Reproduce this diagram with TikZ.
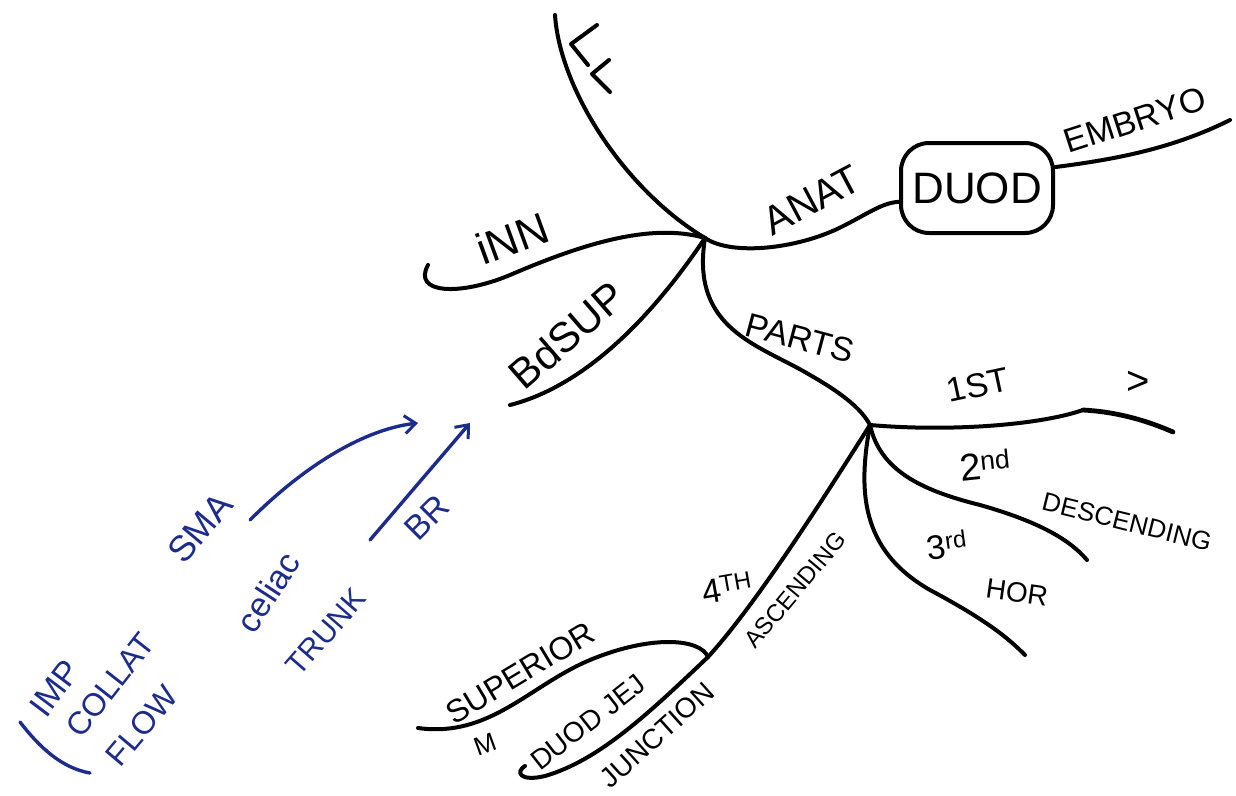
\documentclass[tikz,border=0pt]{standalone}
\usepackage{fontspec}
\setmainfont{Liberation Sans}
\usetikzlibrary{arrows.meta}
\definecolor{inkblue}{RGB}{28,44,140}
\begin{document}
\begin{tikzpicture}[x=1pt,y=-1pt,
  ink/.style={line width=4pt, line cap=round, line join=round, black},
  bink/.style={line width=3.4pt, line cap=round, line join=round, inkblue},
  lab/.style={inner sep=0pt, font=\fontsize{#1}{#1}\selectfont},
  blab/.style={lab=#1, text=inkblue},
  barb/.style={-{Straight Barb[length=11pt,width=18pt,line width=3pt]}}
]
\useasboundingbox[fill=white] (0,0) rectangle (1236,795);

% hubs and free ends
\coordinate (h1) at (705,238);
\coordinate (h2) at (870,425);
\coordinate (j4) at (708,657);
\coordinate (topend) at (555,15);
\coordinate (embend) at (1230,120);
\coordinate (innend) at (428,265);
\coordinate (bdend) at (510,405);
\coordinate (stmid) at (1083,410);
\coordinate (stend) at (1173,432);
\coordinate (ndend) at (1087,560);
\coordinate (rdend) at (1025,655);
\coordinate (juncend) at (525,766);
\coordinate (supend) at (418,728);

% DUOD box
\node[draw, line width=4pt, rounded corners=28pt, minimum width=152pt,
      minimum height=90pt, lab=44] (duod) at (977,188) {DUOD};

% black branches
\draw[ink] (topend) .. controls (560,90) and (625,190) .. (h1);
\draw[ink] (h1) .. controls (730,255) and (790,250) .. (835,230)
               .. controls (865,216) and (880,203) .. (duod.190);
\draw[ink] (duod.15) .. controls (1110,160) and (1170,150) .. (embend);
\draw[ink] (h1) .. controls (650,222) and (580,245) .. (510,275)
               .. controls (460,296) and (412,294) .. (innend);
\draw[ink] (h1) .. controls (670,290) and (600,382) .. (bdend);
\draw[ink] (h1) .. controls (690,330) and (760,345) .. (810,375)
               .. controls (845,395) and (862,410) .. (h2);
\draw[ink] (h2) .. controls (950,432) and (1040,425) .. (stmid);
\draw[ink, line width=4.8pt] (stmid) .. controls (1120,412) and (1150,422) .. (stend);
\draw[ink] (h2) .. controls (880,470) and (920,490) .. (980,505)
               .. controls (1040,522) and (1070,540) .. (ndend);
\draw[ink] (h2) .. controls (858,490) and (860,550) .. (930,590)
               .. controls (990,622) and (1010,640) .. (rdend);
\draw[ink] (h2) .. controls (835,480) and (760,600) .. (j4);
\draw[ink] (j4) .. controls (650,712) and (600,760) .. (545,776)
               .. controls (520,782) and (515,772) .. (juncend);
\draw[ink] (j4) .. controls (700,638) and (650,635) .. (590,660)
               .. controls (530,685) and (490,738) .. (supend);

% chevrons on top branch
\coordinate (c1a) at (597,25); \coordinate (c1b) at (571,44); \coordinate (c1c) at (588,65);
\coordinate (c2a) at (609,60); \coordinate (c2b) at (592,74); \coordinate (c2c) at (610,92);
\draw[ink] (c1a) -- (c1b) -- (c1c);
\draw[ink] (c2a) -- (c2b) -- (c2c);

% black labels
\node[lab=44, rotate=20] (inn) at (512,238) {iNN};
\node[lab=42, rotate=41] (bdsup) at (567,335) {BdSUP};
\node[lab=40, rotate=28] (anat) at (812,200) {ANAT};
\node[lab=34, rotate=18] (embryo) at (1135,120) {EMBRYO};
\node[lab=34, rotate=-15] (parts) at (800,338) {PARTS};
\node[lab=34, rotate=12] (first) at (978,385) {1ST};
\node[lab=40] (gt) at (1138,383) {>};
\node[lab=38, rotate=6] (second) at (985,465) {2\textsuperscript{nd}};
\node[lab=26, rotate=-14] (desc) at (1127,522) {DESCENDING};
\node[lab=34, rotate=8] (third) at (947,545) {3\textsuperscript{rd}};
\node[lab=28, rotate=-8] (hor) at (1017,592) {HOR};
\node[lab=34, rotate=10] (fourth) at (727,588) {4\textsuperscript{TH}};
\node[lab=24, rotate=50] (asc) at (795,590) {ASCENDING};
\node[lab=32, rotate=31] (sup) at (520,673) {SUPERIOR};
\node[lab=26, rotate=20] (m) at (485,744) {M};
\node[lab=28, rotate=38] (dj) at (588,722) {DUOD JEJ};
\node[lab=28, rotate=42] (junc) at (657,735) {JUNCTION};

% blue notes
\coordinate (smaA) at (250,520); \coordinate (smaB) at (418,423);
\coordinate (brA) at (370,540);  \coordinate (brB) at (470,423);
\coordinate (brkA) at (20,722);  \coordinate (brkB) at (90,773);
\draw[bink, barb] (smaA) .. controls (300,470) and (360,430) .. (smaB);
\draw[bink, barb] (brA) -- (brB);
\draw[bink] (brkA) .. controls (40,748) and (62,768) .. (brkB);
\node[blab=36, rotate=50] (sma) at (200,528) {SMA};
\node[blab=34, rotate=57] (celiac) at (268,592) {celiac};
\node[blab=30, rotate=49] (trunk) at (326,632) {TRUNK};
\node[blab=34, rotate=45] (br) at (427,518) {BR};
\node[blab=34, rotate=53] (imp) at (55,688) {IMP};
\node[blab=32, rotate=52] (collat) at (110,685) {COLLAT};
\node[blab=32, rotate=50] (flow) at (142,726) {FLOW};
\end{tikzpicture}
\end{document}
